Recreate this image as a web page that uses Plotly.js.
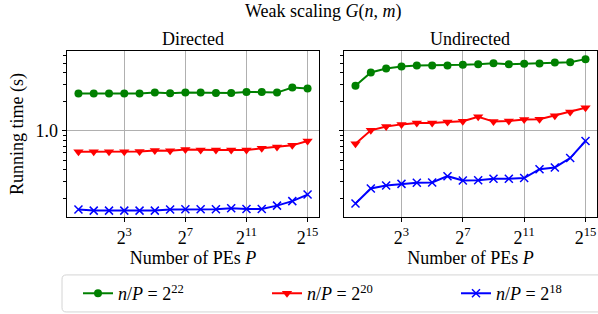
<!DOCTYPE html>
<html>
<head>
<meta charset="utf-8">
<script src="https://cdn.plot.ly/plotly-3.0.1.min.js"></script>
<style>html,body{margin:0;padding:0;background:#fff;}#chart{width:598px;height:314px;}</style>
</head>
<body>
<div id="chart"></div>
<script>
// Number of PEs
const pes = [1, 2, 4, 8, 16, 32, 64, 128, 256, 512, 1024, 2048, 4096, 8192, 16384, 32768];

// Directed running times (s)
const dir22 = [2.43, 2.43, 2.43, 2.43, 2.43, 2.49, 2.45, 2.49, 2.49, 2.47, 2.47, 2.53, 2.53, 2.49, 2.81, 2.74];
const dir20 = [0.611, 0.611, 0.611, 0.611, 0.616, 0.631, 0.626, 0.646, 0.636, 0.636, 0.636, 0.636, 0.662, 0.683, 0.711, 0.788];
const dir18 = [0.155, 0.151, 0.151, 0.151, 0.151, 0.151, 0.155, 0.156, 0.156, 0.156, 0.160, 0.157, 0.157, 0.170, 0.189, 0.221];

// Undirected running times (s)
const und22 = [2.92, 4.01, 4.41, 4.63, 4.74, 4.74, 4.74, 4.82, 4.89, 5.01, 4.89, 4.93, 4.97, 5.09, 5.13, 5.51];
const und20 = [0.739, 1.016, 1.11, 1.17, 1.21, 1.21, 1.24, 1.26, 1.40, 1.25, 1.27, 1.31, 1.32, 1.44, 1.57, 1.74];
const und18 = [0.179, 0.255, 0.274, 0.285, 0.292, 0.294, 0.342, 0.309, 0.311, 0.321, 0.321, 0.327, 0.404, 0.421, 0.526, 0.788];

// Labels
const seriesNames = ['<i>n</i>/<i>P</i> = 2<sup>22</sup>', '<i>n</i>/<i>P</i> = 2<sup>20</sup>', '<i>n</i>/<i>P</i> = 2<sup>18</sup>'];
const panelTitles = ['Directed', 'Undirected'];
const xTickVals = [8, 128, 2048, 32768];
const xTickText = ['2<sup>3</sup>', '2<sup>7</sup>', '2<sup>11</sup>', '2<sup>15</sup>'];
const yTickVals = [1];
const yTickText = ['1.0'];
const yMinorVals = [0.2, 0.3, 0.4, 0.5, 0.6, 0.7, 0.8, 0.9, 2, 3, 4, 5, 6];

const colors = ['#008000', '#ff0000', '#0000ff'];
const symbols = ['circle', 'triangle-down', 'x-thin'];
const sizes = [8, 9, 8];
const legendIds = ['legend', 'legend2', 'legend3'];

function mk(y, i, xa, ya, show) {
  return {
    x: pes, y: y, type: 'scatter', mode: 'lines+markers',
    xaxis: xa, yaxis: ya, name: seriesNames[i], showlegend: show, legend: legendIds[i],
    legendgroup: 'g' + i,
    line: {color: colors[i], width: 2},
    marker: {symbol: symbols[i], size: sizes[i], color: colors[i],
             line: {color: colors[i], width: i === 2 ? 1.5 : 0}}
  };
}

const data = [
  mk(dir22, 0, 'x', 'y', true), mk(dir20, 1, 'x', 'y', true), mk(dir18, 2, 'x', 'y', true),
  mk(und22, 0, 'x2', 'y2', false), mk(und20, 1, 'x2', 'y2', false), mk(und18, 2, 'x2', 'y2', false)
];

const FONT = 'Liberation Serif';

function xAxis(domain, anchor) {
  return {
    domain: domain, anchor: anchor, type: 'log', range: [-0.2258, 4.741],
    tickvals: xTickVals, ticktext: xTickText,
    showgrid: true, gridcolor: '#b0b0b0', gridwidth: 1,
    ticks: 'outside', ticklen: 4, tickwidth: 1, tickcolor: 'black',
    showline: true, linecolor: 'black', linewidth: 1.3, mirror: true, zeroline: false,
    automargin: false,
    tickfont: {family: FONT, size: 18},
    title: {text: 'Number of PEs <i>P</i>', standoff: 2, font: {family: FONT, size: 18}}
  };
}
function yAxis(anchor, labels) {
  return {
    anchor: anchor, type: 'log', range: [-0.887, 0.825],
    tickvals: yTickVals, ticktext: yTickText, showticklabels: labels,
    minor: {tickvals: yMinorVals, ticks: 'outside', ticklen: 2.5, tickwidth: 1, tickcolor: 'black', showgrid: false},
    showgrid: true, gridcolor: '#b0b0b0', gridwidth: 1,
    ticks: 'outside', ticklen: 4, tickwidth: 1, tickcolor: 'black',
    showline: true, linecolor: 'black', linewidth: 1.3, mirror: true, zeroline: false,
    automargin: false,
    tickfont: {family: FONT, size: 18}
  };
}

function legendAt(px) {
  return {
    orientation: 'h', xref: 'container', yref: 'container',
    x: px / 598, xanchor: 'left', y: 0.124, yanchor: 'top',
    borderwidth: 0, bgcolor: 'rgba(0,0,0,0)',
    font: {family: FONT, size: 18}
  };
}

// legend frame (rounded box) in paper coordinates
const bx0 = -0.0094, bx1 = 1.02, by0 = -0.572, by1 = -0.349, rx = 0.008, ry = 0.026;
const framePath = `M ${bx0 + rx} ${by1} L ${bx1} ${by1} L ${bx1} ${by0} L ${bx0 + rx} ${by0} ` +
  `Q ${bx0} ${by0} ${bx0} ${by0 + ry} L ${bx0} ${by1 - ry} Q ${bx0} ${by1} ${bx0 + rx} ${by1} Z`;

const layout = {
  width: 598, height: 314,
  margin: {l: 67, r: 1, t: 51, b: 97},
  paper_bgcolor: '#ffffff', plot_bgcolor: '#ffffff',
  font: {family: FONT, size: 18, color: 'black'},
  xaxis: xAxis([0, 0.4755], 'y'),
  xaxis2: xAxis([0.5226, 1], 'y2'),
  yaxis: yAxis('x', true),
  yaxis2: yAxis('x2', false),
  showlegend: true,
  legend: legendAt(78),
  legend2: legendAt(267),
  legend3: legendAt(456),
  shapes: [
    {type: 'path', xref: 'paper', yref: 'paper', path: framePath, line: {color: '#d4d4d4', width: 1}, fillcolor: 'rgba(0,0,0,0)', layer: 'below'}
  ],
  annotations: [
    {text: 'Weak scaling <i>G</i>(<i>n</i>, <i>m</i>)', xref: 'paper', yref: 'paper', x: 0.484, y: 1.16, xanchor: 'center', yanchor: 'bottom', showarrow: false, font: {family: FONT, size: 18}},
    {text: panelTitles[0], xref: 'paper', yref: 'paper', x: 0.2378, y: 1.0, xanchor: 'center', yanchor: 'bottom', showarrow: false, font: {family: FONT, size: 18}},
    {text: panelTitles[1], xref: 'paper', yref: 'paper', x: 0.7613, y: 1.0, xanchor: 'center', yanchor: 'bottom', showarrow: false, font: {family: FONT, size: 18}},
    {text: 'Running time (s)', xref: 'paper', yref: 'paper', x: -0.0943, y: 0.5, xanchor: 'center', yanchor: 'middle', textangle: -90, showarrow: false, font: {family: FONT, size: 18}}
  ]
};

Plotly.newPlot('chart', data, layout, {displayModeBar: false, staticPlot: true});
</script>
</body>
</html>
